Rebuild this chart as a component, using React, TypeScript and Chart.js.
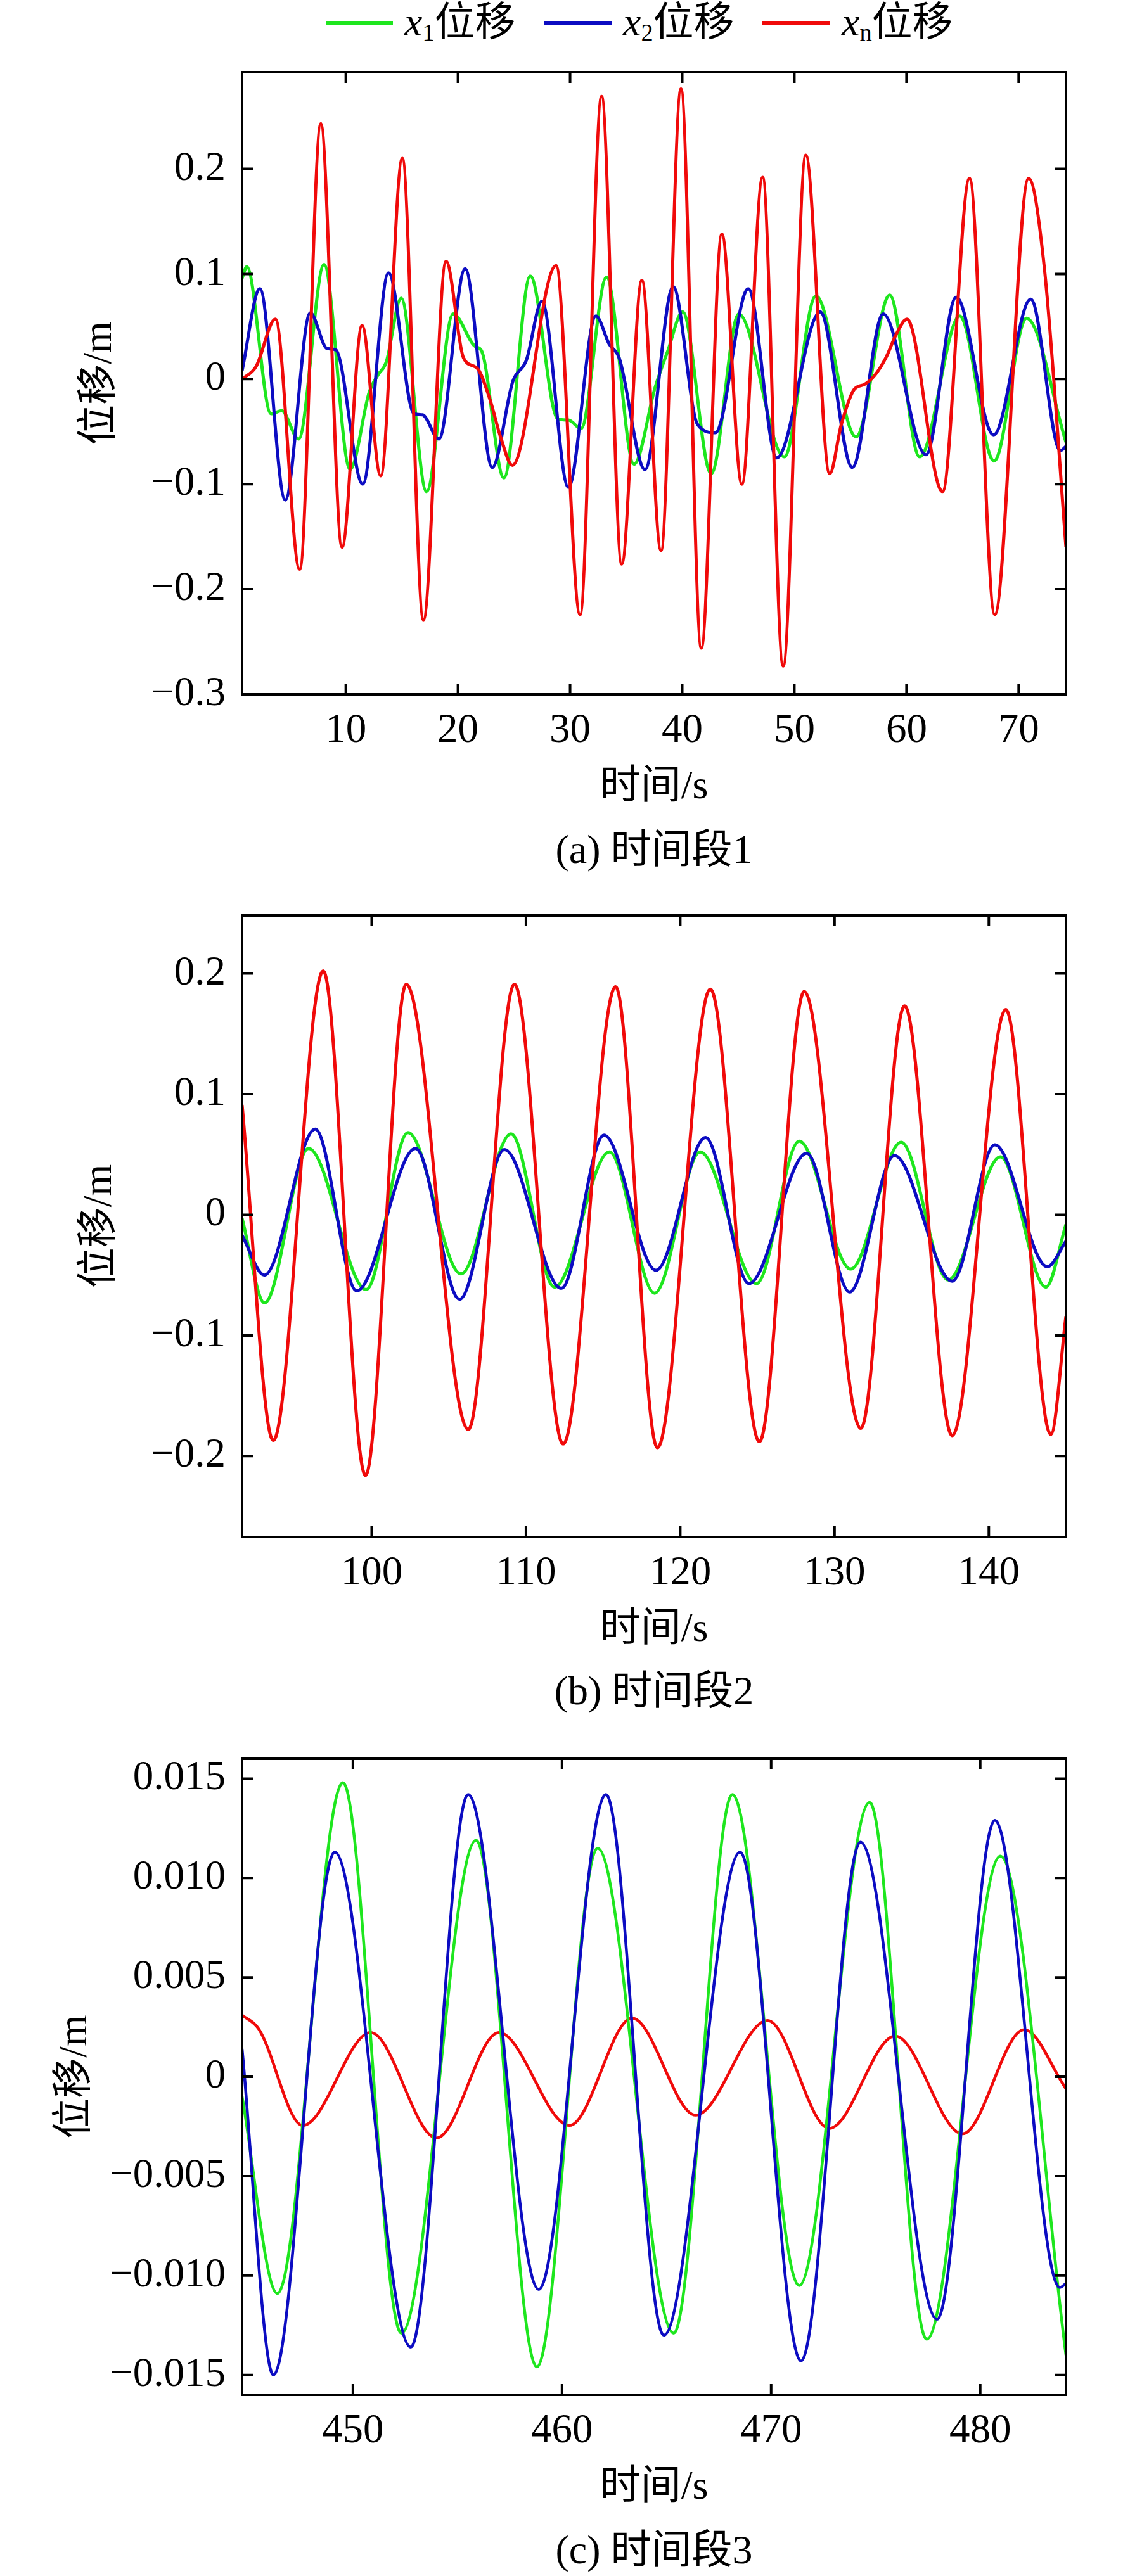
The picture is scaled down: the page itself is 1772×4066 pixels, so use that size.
import React, { useEffect, useRef } from "react";
import { Chart, registerables } from "chart.js";

Chart.register(...registerables);

const FONT = '"Liberation Serif", "Times New Roman", "Noto Sans CJK SC", serif';

// ---------- series names ----------
const seriesSymbol = ["x", "x", "x"];
const seriesSub = ["1", "2", "n"];
const seriesSuffix = ["位移", "位移", "位移"];
const seriesColors = ["#1ee61e", "#0c0cc2", "#f00a0a"];

// ---------- panel (a) 时间段1 ----------
const p1XTicks = [10, 20, 30, 40, 50, 60, 70];
const p1XTickLabels = ["10", "20", "30", "40", "50", "60", "70"];
const p1YTicks = [-0.3, -0.2, -0.1, 0, 0.1, 0.2];
const p1YTickLabels = ["−0.3", "−0.2", "−0.1", "0", "0.1", "0.2"];

const p1X1Time = [0.75, 1.17, 3.34, 4.28, 5.79, 8.06, 10.38, 12.1, 12.87, 13.6, 14.94, 17.2, 19.57, 21.55, 22.1, 24.1, 26.45, 28.9, 29.85, 30.98, 33.25, 35.7, 37.58, 38.72, 40.04, 42.58, 45.04, 49.1, 51.92, 55.51, 58.5, 61.17, 64.75, 67.81, 70.7, 74.22];
const p1X1Disp = [0.096, 0.107, -0.033, -0.03, -0.057, 0.109, -0.086, -0.012, 0.004, 0.016, 0.077, -0.107, 0.062, 0.031, 0.027, -0.094, 0.098, -0.038, -0.039, -0.047, 0.097, -0.081, -0.008, 0.027, 0.064, -0.09, 0.062, -0.074, 0.079, -0.055, 0.08, -0.074, 0.06, -0.078, 0.058, -0.06];

const p1X2Time = [0.75, 2.34, 4.6, 6.83, 8.34, 9.09, 11.51, 13.81, 16.08, 16.83, 18.3, 20.64, 23.06, 24.9, 26.1, 27.49, 29.85, 32.3, 33.5, 34.38, 36.68, 39.19, 41.36, 42.96, 45.89, 48.43, 52.3, 55.17, 57.92, 61.74, 64.43, 67.77, 71.08, 73.72, 74.22];
const p1X2Disp = [0.008, 0.086, -0.115, 0.063, 0.029, 0.028, -0.1, 0.101, -0.033, -0.034, -0.057, 0.105, -0.084, -0.002, 0.018, 0.074, -0.103, 0.06, 0.033, 0.02, -0.086, 0.088, -0.043, -0.051, 0.086, -0.075, 0.064, -0.084, 0.062, -0.072, 0.078, -0.053, 0.076, -0.068, -0.064];

const p1XnTime = [0.75, 2.0, 3.72, 5.89, 7.77, 9.66, 11.45, 13.11, 15.04, 16.92, 18.94, 20.5, 21.74, 22.87, 23.8, 24.85, 28.75, 30.89, 32.81, 34.6, 36.4, 38.11, 39.89, 41.7, 43.53, 45.32, 47.17, 49.0, 51.02, 53.15, 54.19, 55.32, 56.26, 57.2, 58.15, 59.1, 60.04, 63.21, 65.62, 67.87, 70.89, 72.3, 74.22];
const p1XnDisp = [0.0, 0.012, 0.057, -0.181, 0.243, -0.16, 0.051, -0.092, 0.21, -0.229, 0.112, 0.02, 0.01, -0.02, -0.055, -0.082, 0.108, -0.224, 0.269, -0.176, 0.094, -0.163, 0.276, -0.256, 0.138, -0.1, 0.192, -0.273, 0.213, -0.09, -0.043, -0.01, -0.005, 0.004, 0.02, 0.043, 0.057, -0.107, 0.191, -0.224, 0.191, 0.105, -0.16];

// ---------- panel (b) 时间段2 ----------
const p2XTicks = [100, 110, 120, 130, 140];
const p2XTickLabels = ["100", "110", "120", "130", "140"];
const p2YTicks = [-0.2, -0.1, 0, 0.1, 0.2];
const p2YTickLabels = ["−0.2", "−0.1", "0", "0.1", "0.2"];

const p2X1Time = [91.6, 93.05, 95.91, 99.64, 102.36, 105.79, 109.03, 111.85, 115.41, 118.34, 121.29, 124.95, 127.71, 131.05, 134.32, 137.36, 140.75, 143.7, 145.0];
const p2X1Disp = [-0.003, -0.073, 0.055, -0.062, 0.068, -0.049, 0.067, -0.06, 0.052, -0.065, 0.052, -0.057, 0.061, -0.045, 0.06, -0.054, 0.048, -0.06, -0.008];

const p2X2Time = [91.6, 93.05, 96.34, 99.03, 102.84, 105.7, 108.6, 112.29, 115.06, 118.43, 121.64, 124.45, 128.2, 130.98, 133.88, 137.63, 140.39, 143.79, 145.0];
const p2X2Disp = [-0.017, -0.05, 0.071, -0.063, 0.055, -0.07, 0.054, -0.061, 0.066, -0.046, 0.064, -0.057, 0.051, -0.064, 0.049, -0.055, 0.058, -0.043, -0.022];

const p2XnTime = [91.6, 93.62, 96.86, 99.6, 102.24, 106.26, 109.25, 112.41, 115.81, 118.52, 121.95, 125.13, 128.04, 131.7, 134.54, 137.63, 141.1, 144.02, 145.0];
const p2XnDisp = [0.091, -0.187, 0.202, -0.216, 0.191, -0.178, 0.191, -0.19, 0.189, -0.193, 0.187, -0.188, 0.185, -0.177, 0.173, -0.183, 0.17, -0.182, -0.084];

// ---------- panel (c) 时间段3 ----------
const p3XTicks = [450, 460, 470, 480];
const p3XTickLabels = ["450", "460", "470", "480"];
const p3YTicks = [-0.015, -0.01, -0.005, 0, 0.005, 0.01, 0.015];
const p3YTickLabels = ["−0.015", "−0.010", "−0.005", "0", "0.005", "0.010", "0.015"];

const p3X1Time = [444.7, 446.39, 449.52, 452.32, 455.89, 458.8, 461.7, 465.34, 468.15, 471.34, 474.71, 477.44, 480.96, 484.1];
const p3X1Disp = [-0.001, -0.0109, 0.0148, -0.0129, 0.0119, -0.0146, 0.0115, -0.0129, 0.0142, -0.0105, 0.0138, -0.0132, 0.0111, -0.014];

const p3X2Time = [444.7, 446.2, 449.13, 452.77, 455.51, 458.89, 462.1, 464.87, 468.52, 471.43, 474.27, 477.94, 480.7, 483.8, 484.1];
const p3X2Disp = [0.0014, -0.015, 0.0113, -0.0136, 0.0142, -0.0107, 0.0142, -0.013, 0.0113, -0.0143, 0.0118, -0.0122, 0.0129, -0.0106, -0.0104];

const p3XnTime = [444.7, 445.5, 447.6, 450.85, 454.0, 456.98, 460.36, 463.35, 466.39, 469.83, 472.78, 475.93, 479.15, 482.1, 484.1];
const p3XnDisp = [0.0031, 0.0024, -0.00245, 0.00222, -0.00308, 0.00222, -0.00245, 0.00295, -0.00193, 0.00283, -0.0026, 0.00205, -0.00287, 0.00237, -0.0006];

const xTitle = "时间/s";
const yTitle = "位移/m";
const captions = ["(a) 时间段1", "(b) 时间段2", "(c) 时间段3"];

// ---------- layout (pixels) ----------
const PLOT_LEFT = 382;
const PLOT_RIGHT = 1682;
const PAD_TOP = 80;
const XAXIS_H = 190;
const PAGE_W = 1772;

type Series = { t: number[]; y: number[]; color: string; order: number };

type PanelProps = {
  plotTop: number;
  plotBottom: number;
  xMin: number;
  xMax: number;
  yMin: number;
  yMax: number;
  xTicks: number[];
  xLabels: string[];
  yTicks: number[];
  yLabels: string[];
  series: Series[];
  lineWidth: number;
  yTitleCenter: number;
};

const framePlugin = {
  id: "frameTicks",
  afterDatasetsDraw(chart: any) {
    const { ctx, chartArea: a, scales } = chart;
    ctx.save();
    ctx.strokeStyle = "#000";
    ctx.lineWidth = 4;
    ctx.strokeRect(a.left, a.top, a.right - a.left, a.bottom - a.top);
    const L = 17;
    ctx.beginPath();
    for (const t of scales.x.ticks) {
      const px = scales.x.getPixelForValue(t.value);
      ctx.moveTo(px, a.bottom);
      ctx.lineTo(px, a.bottom - L);
      ctx.moveTo(px, a.top);
      ctx.lineTo(px, a.top + L);
    }
    for (const t of scales.y.ticks) {
      const py = scales.y.getPixelForValue(t.value);
      ctx.moveTo(a.left, py);
      ctx.lineTo(a.left + L, py);
      ctx.moveTo(a.right, py);
      ctx.lineTo(a.right - L, py);
    }
    ctx.stroke();
    ctx.restore();
  },
};

function Panel(p: PanelProps) {
  const ref = useRef<HTMLCanvasElement | null>(null);
  const canvasTop = p.plotTop - PAD_TOP;
  const canvasH = PAD_TOP + (p.plotBottom - p.plotTop) + XAXIS_H;

  useEffect(() => {
    if (!ref.current) return;
    const tickFont = { family: FONT, size: 65 };
    const titleFont = { family: FONT, size: 64 };
    const chart = new Chart(ref.current, {
      type: "line",
      data: {
        datasets: p.series.map((s) => ({
          data: s.t.map((x, i) => ({ x, y: s.y[i] })),
          borderColor: s.color,
          backgroundColor: s.color,
          borderWidth: p.lineWidth,
          pointRadius: 0,
          fill: false,
          cubicInterpolationMode: "monotone" as const,
          order: s.order,
        })),
      },
      options: {
        animation: false,
        responsive: false,
        devicePixelRatio: 1,
        layout: { padding: { top: PAD_TOP, right: PAGE_W - PLOT_RIGHT, bottom: 0, left: 0 } },
        plugins: { legend: { display: false }, tooltip: { enabled: false } },
        scales: {
          x: {
            type: "linear",
            min: p.xMin,
            max: p.xMax,
            grid: { display: false, drawTicks: false },
            border: { display: false },
            afterBuildTicks: (s: any) => {
              s.ticks = p.xTicks.map((v) => ({ value: v }));
            },
            afterFit: (s: any) => {
              s.height = XAXIS_H;
            },
            ticks: {
              autoSkip: false,
              maxRotation: 0,
              padding: 19,
              color: "#000",
              font: tickFont,
              callback: (_v: any, i: number) => p.xLabels[i],
            },
            title: {
              display: true,
              text: xTitle,
              color: "#000",
              font: titleFont,
              padding: { top: 0, bottom: 4 },
            },
          },
          y: {
            type: "linear",
            min: p.yMin,
            max: p.yMax,
            grid: { display: false, drawTicks: false },
            border: { display: false },
            afterBuildTicks: (s: any) => {
              s.ticks = p.yTicks.map((v) => ({ value: v }));
            },
            afterFit: (s: any) => {
              s.width = PLOT_LEFT;
            },
            ticks: {
              autoSkip: false,
              padding: 26,
              color: "#000",
              font: tickFont,
              callback: (_v: any, i: number) => p.yLabels[i],
            },
            title: {
              display: true,
              text: yTitle,
              color: "#000",
              font: titleFont,
              padding: { top: p.yTitleCenter - 38.4, bottom: 0 },
            },
          },
        },
      } as any,
      plugins: [framePlugin],
    });
    return () => chart.destroy();
  }, []);

  return (
    <canvas
      ref={ref}
      width={PAGE_W}
      height={canvasH}
      style={{ position: "absolute", left: 0, top: canvasTop, width: PAGE_W, height: canvasH, display: "block" }}
    />
  );
}

function Legend() {
  const lineLefts = [514, 859, 1203];
  const textLefts = [638, 983, 1328];
  return (
    <>
      {seriesColors.map((c, i) => (
        <React.Fragment key={i}>
          <div style={{ position: "absolute", left: lineLefts[i], top: 33, width: 106, height: 6, background: c }} />
          <div
            style={{
              position: "absolute",
              left: textLefts[i],
              top: -3,
              height: 76,
              lineHeight: "76px",
              fontSize: 64,
              fontFamily: FONT,
              whiteSpace: "nowrap",
            }}
          >
            <i>{seriesSymbol[i]}</i>
            <sub style={{ fontSize: "0.6em", verticalAlign: "-0.22em", lineHeight: 0 }}>{seriesSub[i]}</sub>
            {seriesSuffix[i]}
          </div>
        </React.Fragment>
      ))}
    </>
  );
}

function Caption({ text, cy }: { text: string; cy: number }) {
  return (
    <div
      style={{
        position: "absolute",
        left: PLOT_LEFT,
        width: PLOT_RIGHT - PLOT_LEFT,
        top: cy - 38,
        height: 76,
        lineHeight: "76px",
        textAlign: "center",
        fontSize: 64,
        fontFamily: FONT,
        whiteSpace: "nowrap",
      }}
    >
      {text}
    </div>
  );
}

export default function App() {
  const [g, b, r] = seriesColors;
  return (
    <div
      style={{
        position: "absolute",
        left: 0,
        top: 0,
        width: PAGE_W,
        height: 4066,
        background: "#fff",
        overflow: "hidden",
        color: "#000",
        fontFamily: FONT,
      }}
    >
      <Legend />
      <Panel
        plotTop={114}
        plotBottom={1096}
        xMin={0.75}
        xMax={74.22}
        yMin={-0.3}
        yMax={0.292}
        xTicks={p1XTicks}
        xLabels={p1XTickLabels}
        yTicks={p1YTicks}
        yLabels={p1YTickLabels}
        lineWidth={5}
        yTitleCenter={158}
        series={[
          { t: p1X1Time, y: p1X1Disp, color: g, order: 2 },
          { t: p1X2Time, y: p1X2Disp, color: b, order: 1 },
          { t: p1XnTime, y: p1XnDisp, color: r, order: 0 },
        ]}
      />
      <Caption text={captions[0]} cy={1341} />
      <Panel
        plotTop={1445}
        plotBottom={2426}
        xMin={91.6}
        xMax={145.0}
        yMin={-0.267}
        yMax={0.248}
        xTicks={p2XTicks}
        xLabels={p2XTickLabels}
        yTicks={p2YTicks}
        yLabels={p2YTickLabels}
        lineWidth={5}
        yTitleCenter={158}
        series={[
          { t: p2X1Time, y: p2X1Disp, color: g, order: 2 },
          { t: p2X2Time, y: p2X2Disp, color: b, order: 1 },
          { t: p2XnTime, y: p2XnDisp, color: r, order: 0 },
        ]}
      />
      <Caption text={captions[1]} cy={2669} />
      <Panel
        plotTop={2776}
        plotBottom={3780}
        xMin={444.7}
        xMax={484.1}
        yMin={-0.016}
        yMax={0.016}
        xTicks={p3XTicks}
        xLabels={p3XTickLabels}
        yTicks={p3YTicks}
        yLabels={p3YTickLabels}
        lineWidth={4.5}
        yTitleCenter={119}
        series={[
          { t: p3XnTime, y: p3XnDisp, color: r, order: 2 },
          { t: p3X1Time, y: p3X1Disp, color: g, order: 1 },
          { t: p3X2Time, y: p3X2Disp, color: b, order: 0 },
        ]}
      />
      <Caption text={captions[2]} cy={4025} />
    </div>
  );
}
